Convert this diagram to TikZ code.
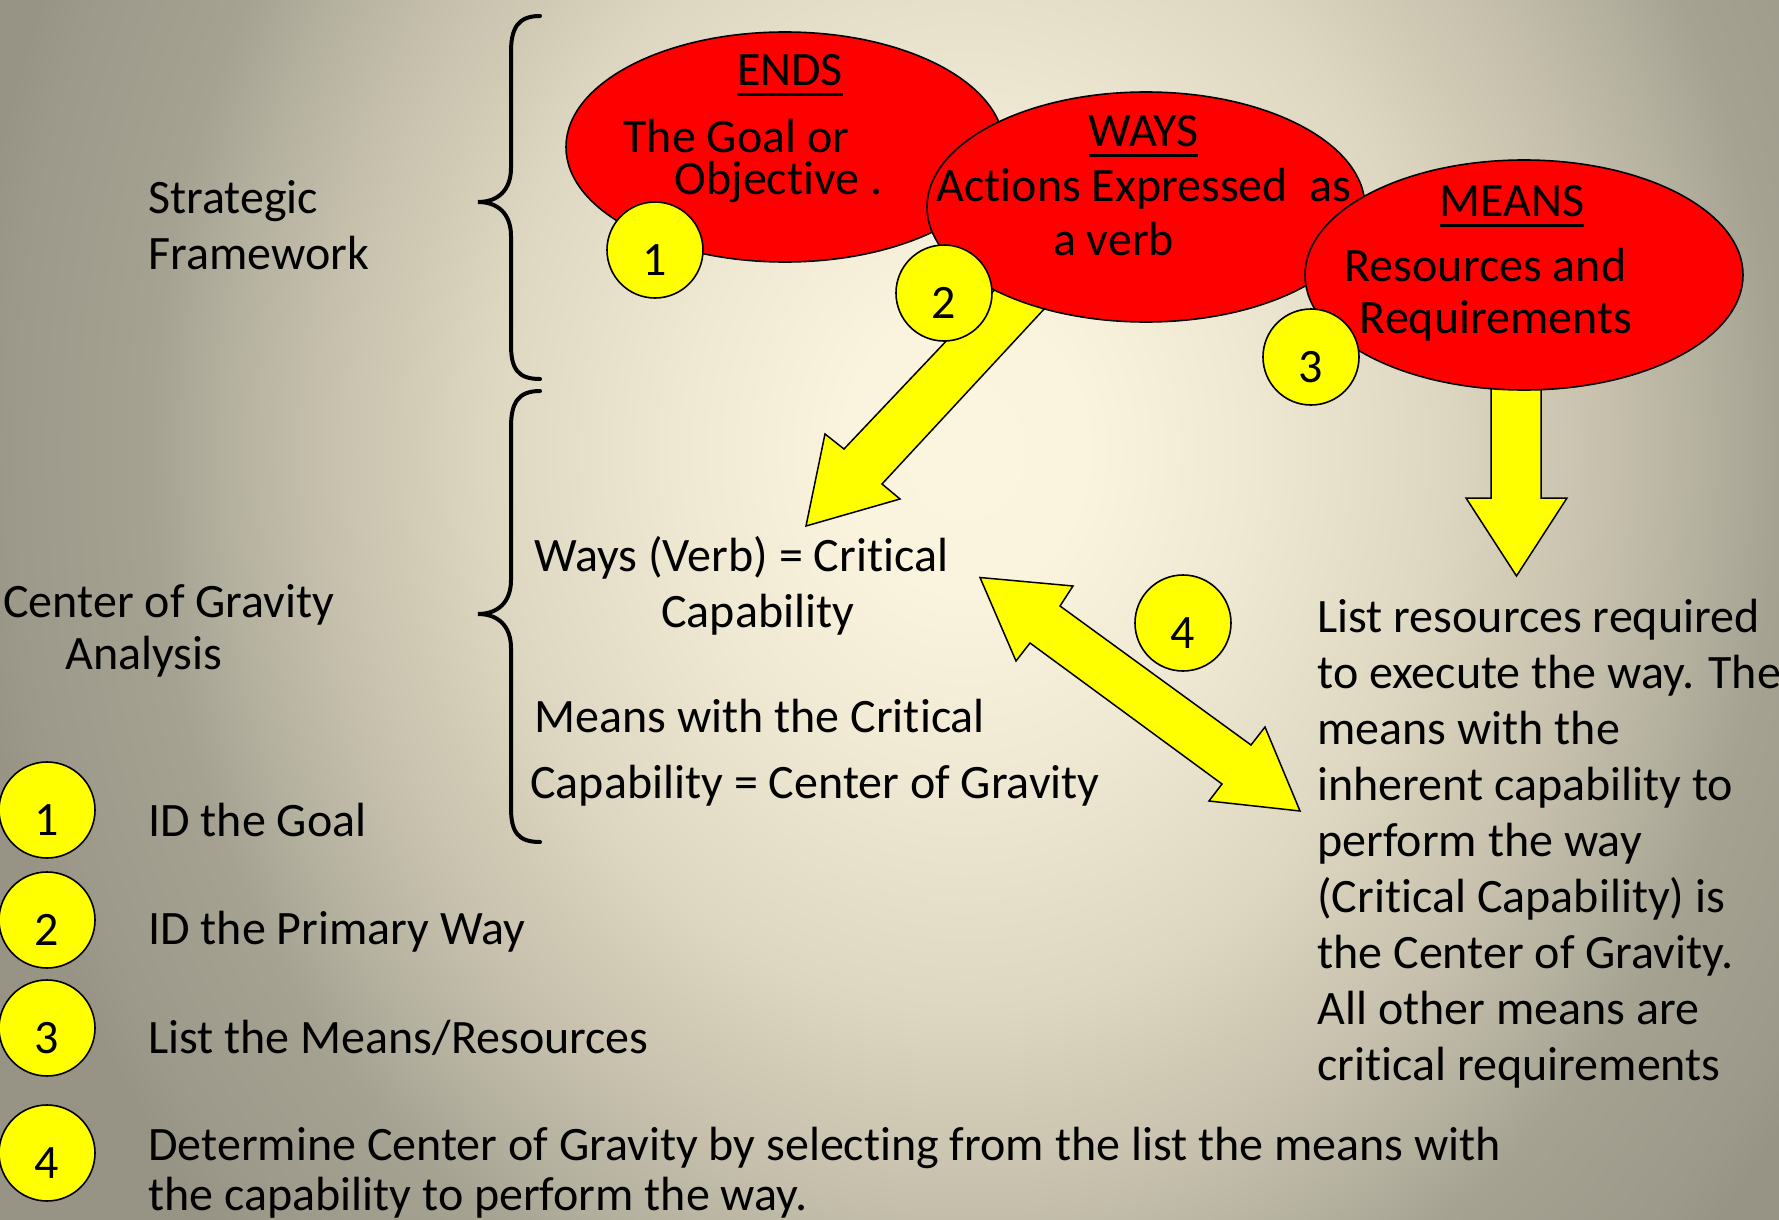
\documentclass[tikz,border=0pt]{standalone}
\usepackage{fontspec}
\setmainfont{Carlito}[Ligatures=NoCommon]
\usetikzlibrary{shapes.geometric}
\definecolor{bg0}{HTML}{FBF5E0}
\definecolor{bg1}{HTML}{FAF4DF}
\definecolor{bg2}{HTML}{EFE9D4}
\definecolor{bg3}{HTML}{DDD7C2}
\definecolor{bg4}{HTML}{D0CAB5}
\definecolor{bg5}{HTML}{C5BFAC}
\definecolor{bg6}{HTML}{B5B19F}
\definecolor{bg7}{HTML}{A5A292}
\definecolor{bg8}{HTML}{9C998A}
\definecolor{bg9}{HTML}{979485}
\definecolor{redfill}{HTML}{FF0000}
\definecolor{yelfill}{HTML}{FFFF00}
\pgfdeclareradialshading{bgshade}{\pgfpoint{0bp}{0bp}}{color(0bp)=(bg0); color(3bp)=(bg1); color(7bp)=(bg2); color(12bp)=(bg3); color(14.2bp)=(bg4); color(16.15bp)=(bg5); color(18.45bp)=(bg6); color(20.35bp)=(bg7); color(24bp)=(bg8); color(25bp)=(bg9); color(50bp)=(bg9)}
\newcommand\ulword[1]{\setbox0\hbox{#1}\rlap{\rule[-4.8pt]{\wd0}{1.5pt}}\box0}
\begin{document}
\begin{tikzpicture}[x=0.5pt,y=-0.5pt,
  txt/.style={inner sep=0pt, font=\fontsize{24pt}{28pt}\selectfont},
  oval/.style={ellipse, draw=black, fill=redfill, line width=0.8pt,
    minimum width=219pt, minimum height=115pt, inner sep=0pt},
  num/.style={circle, draw=black, fill=yelfill, line width=0.8pt,
    minimum size=48pt, inner sep=0pt, text height=25.7pt, text depth=0pt,
    font=\fontsize{24pt}{28pt}\selectfont},
  blockarrow/.style={draw=black, fill=yelfill, line width=0.75pt, line join=miter},
  bracepath/.style={draw=black, line width=2pt, line cap=round}]
\useasboundingbox (0,0) rectangle (1779,1220);
% background
\begin{scope}
\clip (0,0) rectangle (1779,1220);
\shade[shading=bgshade] (-35,-720) rectangle (1965,1620);
\end{scope}
% braces
\draw[bracepath] (540,16) .. controls (518,16) and (511,28) .. (511,52) -- (511,168)
  .. controls (511,190) and (498,202) .. (478,202)
  .. controls (498,202) and (511,214) .. (511,236) -- (511,345)
  .. controls (511,369) and (518,379) .. (540,379);
\draw[bracepath] (540,391) .. controls (518,391) and (511,403) .. (511,427) -- (511,580)
  .. controls (511,602) and (498,614) .. (478,614)
  .. controls (498,614) and (511,626) .. (511,648) -- (511,808)
  .. controls (511,832) and (518,842) .. (540,842);
% left labels (base anchor = last line)
\node[txt, anchor=base west, align=left] (sf) at (148,269.6) {Strategic\\[0.3pt]Framework};
\node[txt, anchor=base west] (cog1) at (3,617) {Center of Gravity};
\node[txt, anchor=base west] (cog2) at (65,669) {Analysis};
% ENDS
\node[oval] (ends) at (785,147) {};
\node[num] (n1) at (655,250) {1};
% arrow from WAYS
\draw[blockarrow] (1004,280) -- (844,449) -- (825,434) -- (806,526) -- (900,499) -- (882,484) -- (1071,280) -- cycle;
% WAYS
\node[oval] (ways) at (1146,207) {};
\node[num] (n2) at (944,293) {2};
% arrow from MEANS
\draw[blockarrow] (1491,370) -- (1491,498) -- (1466,498) -- (1516.5,576) -- (1567,498) -- (1541,498) -- (1541,370) -- cycle;
% MEANS
\node[oval] (means) at (1524,275) {};
\node[num] (n3) at (1311,357) {3};
% ellipse texts
\node[txt, anchor=base] (endsT) at (790,86) {\ulword{ENDS}};
\node[txt, anchor=base] (endsA) at (736.5,153) {The Goal or};
\node[txt, anchor=base] (endsB) at (778.5,195) {Objective .};
\node[txt, anchor=base] (waysT) at (1143.5,147) {\ulword{WAYS}};
\node[txt, anchor=base] (waysA) at (1144,202) {Actions Expressed\ \ as};
\node[txt, anchor=base] (waysB) at (1113.5,256) {a verb};
\node[txt, anchor=base] (meansT) at (1512,217) {\ulword{MEANS}};
\node[txt, anchor=base] (meansA) at (1485.5,281) {Resources and};
\node[txt, anchor=base] (meansB) at (1496,333) {Requirements};
% double arrow
\draw[blockarrow] (980,577.5) -- (1073,586) -- (1060,606) -- (1251,745) -- (1265,727) -- (1300,811) -- (1209,801) -- (1222,784) -- (1030,643) -- (1016,661) -- cycle;
\node[num] (n4) at (1183,623) {4};
% middle texts
\node[txt, anchor=base west] (m1) at (534,571) {Ways (Verb) = Critical};
\node[txt, anchor=base west] (m2) at (661,627) {Capability};
\node[txt, anchor=base west] (m3) at (534,732) {Means with the Critical};
\node[txt, anchor=base west] (m4) at (530,798) {Capability = Center of Gravity};
% right text (base anchor = last line)
\node[txt, anchor=base west, align=left] (rt) at (1317,1080) {List resources required\\
to execute the way. The\\
means with the\\
inherent capability to\\
perform the way\\
(Critical Capability) is\\
the Center of Gravity.\\
All other means are\\
critical requirements};
% legend
\node[num] (l1) at (47,810) {1};
\node[num] (l2) at (47,920) {2};
\node[num] (l3) at (47,1028) {3};
\node[num] (l4) at (47,1153) {4};
\node[txt, anchor=base west] (t1) at (148,836) {ID the Goal};
\node[txt, anchor=base west] (t2) at (148,944) {ID the Primary Way};
\node[txt, anchor=base west] (t3) at (148,1053) {List the Means/Resources};
\node[txt, anchor=base west] (t4a) at (148,1160) {Determine Center of Gravity by selecting from the list the means with};
\node[txt, anchor=base west] (t4b) at (148,1210) {the capability to perform the way.};
\end{tikzpicture}
\end{document}
